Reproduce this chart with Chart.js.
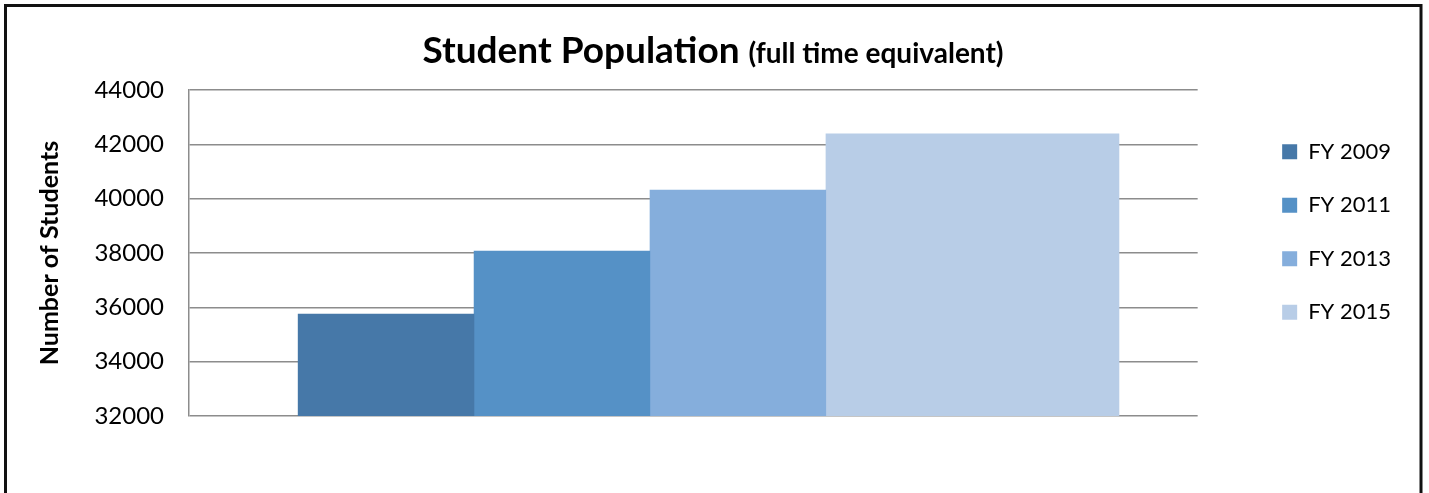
<!DOCTYPE html>
<html>
<head>
<meta charset="utf-8">
<script src="https://cdn.jsdelivr.net/npm/chart.js@4.4.1/dist/chart.umd.min.js"></script>
<style>
  html, body { margin: 0; padding: 0; background: #fff; }
</style>
</head>
<body>
<canvas id="chart" width="1429" height="493"></canvas>
<script>
const seriesLabels = ['FY 2009', 'FY 2011', 'FY 2013', 'FY 2015'];
const studentCounts = [35750, 38070, 40320, 42390];
const yTicks = [32000, 34000, 36000, 38000, 40000, 42000, 44000];
const titleMain = 'Student Population';
const titleSub = '(full time equivalent)';
const yAxisTitle = 'Number of Students';

const colors = ['#4678a8', '#5591c6', '#85aedc', '#b8cde7'];
const gridColor = '#8c8c8c';
const fontFamily = 'Lato, "DejaVu Sans", sans-serif';

// bar widths in slots, the last bar is drawn wider in the original
const slots = [3, 3, 3, 5];
const slotPx = 58.6;

let start = 0;
const datasets = seriesLabels.map((label, i) => {
    const center = start + slots[i] / 2;
    start += slots[i];
    return {
        label: label,
        data: [{ x: center, y: studentCounts[i] }],
        backgroundColor: colors[i],
        borderWidth: 0,
        grouped: false,
        barThickness: slots[i] * slotPx
    };
});

// frame round the whole picture
const frame = {
    id: 'frame',
    beforeDraw(chart) {
        const ctx = chart.ctx;
        ctx.save();
        ctx.fillStyle = '#fff';
        ctx.fillRect(0, 0, chart.width, chart.height);
        ctx.strokeStyle = '#111';
        ctx.lineWidth = 3;
        ctx.strokeRect(5.5, 5.5, 1415.5, 600);
        ctx.restore();
    }
};

// title in two sizes
const splitTitle = {
    id: 'splitTitle',
    afterDraw(chart) {
        const ctx = chart.ctx;
        const mainFont = 'bold 37px ' + fontFamily;
        const subFont = 'bold 28px ' + fontFamily;
        ctx.save();
        ctx.font = mainFont;
        const w1 = ctx.measureText(titleMain + ' ').width;
        ctx.font = subFont;
        const w2 = ctx.measureText(titleSub).width;
        const x = 713 - (w1 + w2) / 2;
        ctx.fillStyle = '#000';
        ctx.textBaseline = 'alphabetic';
        ctx.font = mainFont;
        ctx.fillText(titleMain + ' ', x, 63);
        ctx.font = subFont;
        ctx.fillText(titleSub, x + w1, 63);
        ctx.restore();
    }
};

new Chart(document.getElementById('chart'), {
    type: 'bar',
    data: { datasets: datasets },
    plugins: [frame, splitTitle],
    options: {
        responsive: false,
        animation: false,
        layout: { padding: { top: 48, bottom: 77, left: 5, right: 28 } },
        plugins: {
            title: { display: false },
            tooltip: { enabled: false },
            legend: {
                position: 'right',
                labels: {
                    color: '#000',
                    font: { family: fontFamily, size: 22 },
                    boxWidth: 15,
                    boxHeight: 15,
                    padding: 31.5
                }
            }
        },
        scales: {
            x: {
                type: 'linear',
                position: 'top',
                offset: false,
                min: -1.86,
                max: 15.34,
                grid: { display: false },
                border: { display: false },
                ticks: { display: false },
                afterFit: s => { s.height = 42; }
            },
            y: {
                min: 32000,
                max: 44000,
                afterBuildTicks: s => { s.ticks = yTicks.map(v => ({ value: v })); },
                afterFit: s => { s.width = 184; },
                grid: { color: gridColor, lineWidth: 1.5, drawTicks: false },
                border: { color: gridColor, width: 1.5 },
                ticks: {
                    color: '#000',
                    padding: 25,
                    font: { family: fontFamily, size: 24 },
                    callback: v => String(v)
                },
                title: {
                    display: true,
                    text: yAxisTitle,
                    color: '#000',
                    font: { family: fontFamily, size: 25, weight: 'bold' },
                    padding: { top: 30 }
                }
            },
            gap: {
                type: 'linear',
                position: 'right',
                display: true,
                grid: { display: false },
                border: { display: false },
                ticks: { display: false },
                afterFit: s => { s.width = 53; }
            }
        }
    }
});
</script>
</body>
</html>
